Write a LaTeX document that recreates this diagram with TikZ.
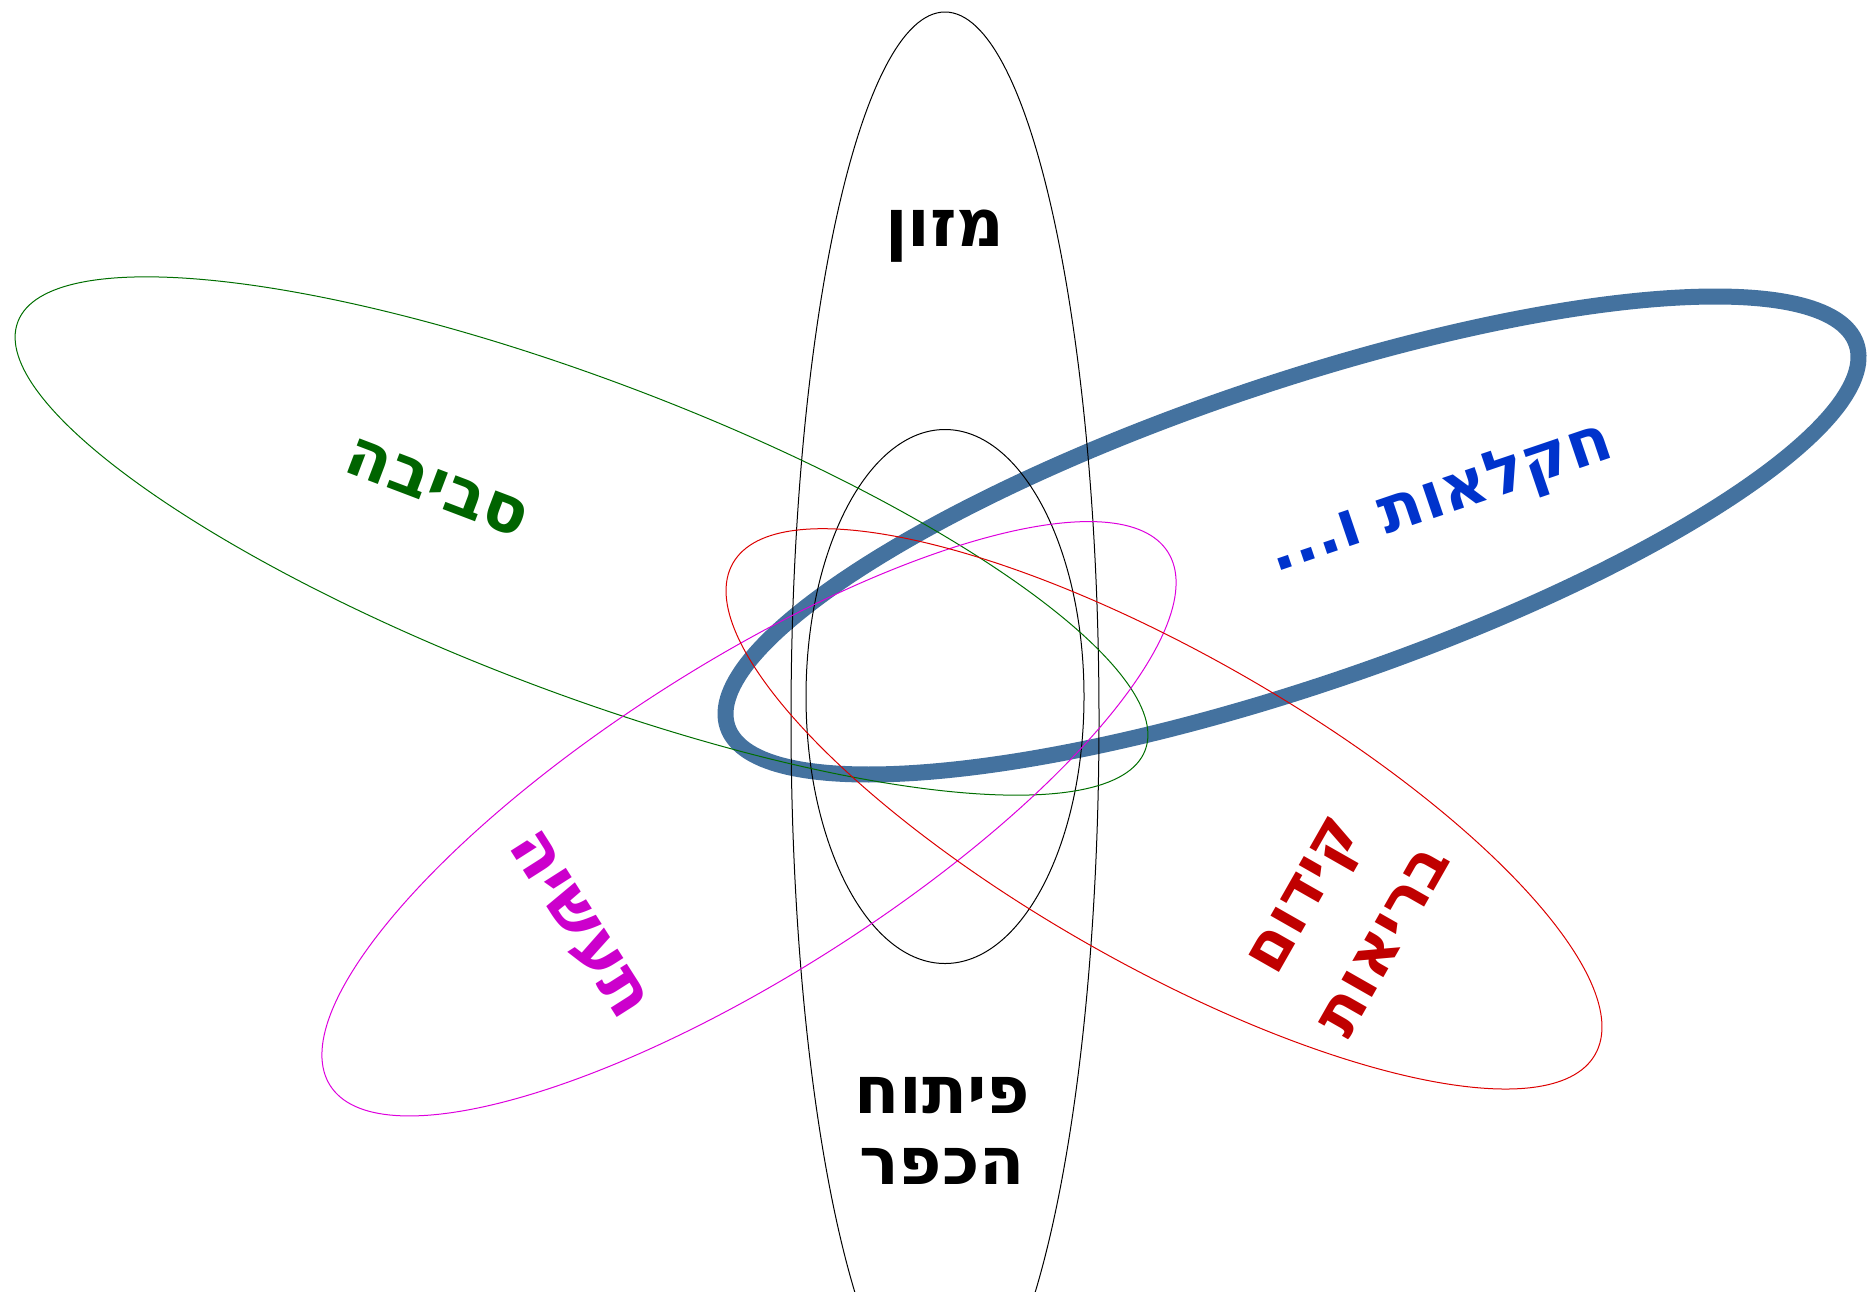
\documentclass[tikz,border=0pt]{standalone}
\usepackage{fontspec}
\TeXXeTstate=1
\newfontfamily\hebfont[Script=Hebrew]{DejaVu Sans}
\definecolor{lgreen}{RGB}{0,110,0}
\definecolor{tgreen}{RGB}{0,100,0}
\definecolor{lblue}{RGB}{68,114,159}
\definecolor{tblue}{RGB}{0,51,204}
\definecolor{lmag}{RGB}{221,0,221}
\definecolor{tmag}{RGB}{204,0,204}
\definecolor{lred}{RGB}{220,0,0}
\definecolor{tred}{RGB}{192,0,0}
\tikzset{
  thinline/.style={line width=1pt},
  label/.style={font=\hebfont\bfseries\fontsize{66}{71}\selectfont, align=center, inner sep=0pt},
}
\begin{document}
\begin{tikzpicture}[x=1pt,y=1pt]
\useasboundingbox (0,0) rectangle (1867,-1291);
% blue thick ellipse (beneath)
\draw[lblue, line width=16pt, rotate around={18.74:(1292,-535.5)}] (1292,-535.5) ellipse [x radius=596, y radius=151];
% black ellipses
\draw[black, thinline] (945,-719) ellipse [x radius=154, y radius=707];
\draw[black, thinline] (945,-696.5) ellipse [x radius=139, y radius=267];
% green
\draw[lgreen, thinline, rotate around={-20.81:(581.5,-536)}] (581.5,-536) ellipse [x radius=603, y radius=156];
% magenta
\draw[lmag, thinline, rotate around={32.5:(749,-818.75)}] (749,-818.75) ellipse [x radius=496.6, y radius=155];
% red
\draw[lred, thinline, rotate around={-29.67:(1164,-808.85)}] (1164,-808.85) ellipse [x radius=496.2, y radius=155];
% labels
\node[label, anchor=base] (food) at (945,-246) {\beginR מזון\endR};
\node[label, anchor=base] (village) at (942,-1184) {\beginR פיתוח\endR\\\beginR הכפר\endR};
\node[label, text=tgreen, rotate=-20.81] (env) at (437,-488) {\beginR סביבה\endR};
\node[label, text=tblue, rotate=18.74, font=\hebfont\bfseries\fontsize{64}{71}\selectfont] (agri) at (1441,-500) {\beginR חקלאות ו...\endR};
\node[label, text=tmag, rotate=-57.5, font=\hebfont\bfseries\fontsize{68}{71}\selectfont] (ind) at (577,-926) {\beginR תעשיה\endR};
\node[label, text=tred, rotate=60.33, font=\hebfont\bfseries\fontsize{64}{94}\selectfont] (health) at (1344,-918) {\beginR קידום\endR\\\beginR בריאות\endR};
\end{tikzpicture}
\end{document}
